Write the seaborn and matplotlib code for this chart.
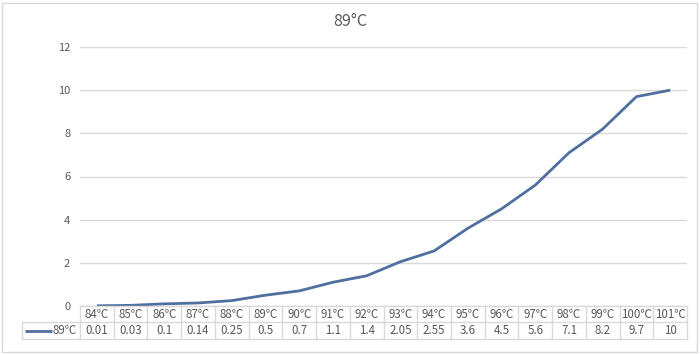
import matplotlib
matplotlib.use("Agg")
import matplotlib.pyplot as plt
import seaborn as sns
import pandas as pd
from matplotlib.patches import Rectangle
from matplotlib.transforms import blended_transform_factory

categories = ["84℃", "85℃", "86℃", "87℃", "88℃", "89℃", "90℃", "91℃", "92℃",
              "93℃", "94℃", "95℃", "96℃", "97℃", "98℃", "99℃", "100℃", "101℃"]
values = [0.01, 0.03, 0.1, 0.14, 0.25, 0.5, 0.7, 1.1, 1.4,
          2.05, 2.55, 3.6, 4.5, 5.6, 7.1, 8.2, 9.7, 10]
value_labels = ["0.01", "0.03", "0.1", "0.14", "0.25", "0.5", "0.7", "1.1", "1.4",
                "2.05", "2.55", "3.6", "4.5", "5.6", "7.1", "8.2", "9.7", "10"]
series_name = "89℃"
title = "89°C"
yticks = [0, 2, 4, 6, 8, 10, 12]

sns.set_theme(style="white")
plt.rcParams["font.family"] = ["Noto Sans CJK SC", "DejaVu Sans"]

LINE = "#4f6fa0"
GRID = "#d9d9d9"
TXT = "#595959"

W, H = 700, 354
fig = plt.figure(figsize=(7.0, 3.54), dpi=100)
fig.patch.set_facecolor("white")

left, right, top, bottom = 80, 687, 47, 306
ax = fig.add_axes([left / W, 1 - bottom / H, (right - left) / W, (bottom - top) / H])

df = pd.DataFrame({"cat": categories, "val": values})
sns.lineplot(data=df, x="cat", y="val", ax=ax, color=LINE, linewidth=2.0,
             sort=False, solid_capstyle="butt")

ax.set_xlim(-0.5, len(categories) - 0.5)
ax.set_ylim(0, 12)
ax.set_yticks(yticks)
ax.set_yticklabels([str(t) for t in yticks], color=TXT, fontsize=8)
ax.set_xticks([])
ax.set_xlabel("")
ax.set_ylabel("")
ax.tick_params(axis="y", length=0, pad=7)
ax.grid(axis="y", color=GRID, linewidth=1)
ax.grid(axis="x", visible=False)
for s in ["left", "right", "top"]:
    ax.spines[s].set_visible(False)
ax.spines["bottom"].set_color(GRID)
ax.spines["bottom"].set_linewidth(1)
ax.set_axisbelow(True)

fig.text(0.5, 1 - 21 / H, title, ha="center", va="center", fontsize=11.5, color=TXT)

# data table
ph = bottom - top
r1 = -16 / ph
r2 = -33 / ph
tr = blended_transform_factory(ax.transData, ax.transAxes)
n = len(categories)
for i in range(n + 1):
    ax.plot([i - 0.5, i - 0.5], [0, r2], transform=tr, color=GRID, lw=1, clip_on=False)
ax.plot([-0.5, n - 0.5], [r1, r1], transform=tr, color=GRID, lw=1, clip_on=False)
ax.plot([-0.5, n - 0.5], [r2, r2], transform=tr, color=GRID, lw=1, clip_on=False)
for i in range(n):
    ax.text(i, r1 / 2, categories[i], transform=tr, ha="center", va="center",
            fontsize=8.3, color=TXT)
    ax.text(i, (r1 + r2) / 2, value_labels[i], transform=tr, ha="center", va="center",
            fontsize=8.3, color=TXT)

# legend cell
lx0 = 22
axfrac = lambda px: (px - left) / (right - left)
ax.plot([axfrac(lx0), axfrac(left)], [r1, r1], transform=ax.transAxes, color=GRID, lw=1, clip_on=False)
ax.plot([axfrac(lx0), axfrac(left)], [r2, r2], transform=ax.transAxes, color=GRID, lw=1, clip_on=False)
ax.plot([axfrac(lx0), axfrac(lx0)], [r1, r2], transform=ax.transAxes, color=GRID, lw=1, clip_on=False)
ax.plot([axfrac(25), axfrac(52)], [(r1 + r2) / 2] * 2, transform=ax.transAxes,
        color=LINE, lw=2.0, clip_on=False, solid_capstyle="butt")
ax.text(axfrac(77), (r1 + r2) / 2, series_name, transform=ax.transAxes, ha="right",
        va="center", fontsize=8.3, color=TXT)

# outer frame
fig.patches.append(Rectangle((2 / W, 2 / H), (W - 5) / W, (H - 5) / H, transform=fig.transFigure,
                             fill=False, edgecolor="#d9d9d9", lw=1))

fig.savefig("out.png", dpi=100)
